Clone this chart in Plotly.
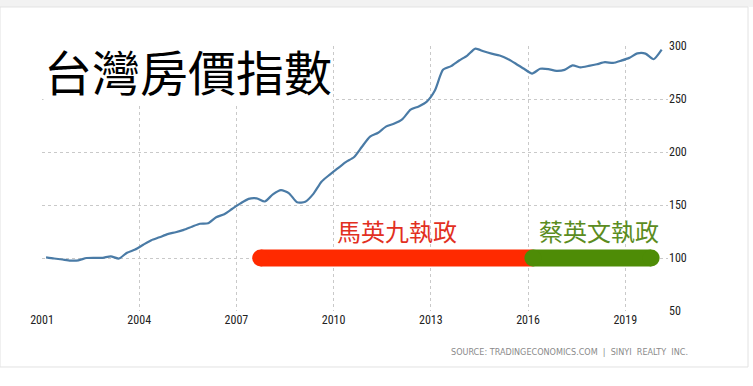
import plotly.graph_objects as go

# Taiwan house price index (quarterly, 2001Q1 .. 2020Q1)
start_year = 2001.125
index_values = [
    100.6, 99.5, 98.6, 97.6, 97.8, 100.0, 100.2, 100.2,
    101.5, 99.5, 105.0, 108.0, 112.5, 116.8, 119.5, 122.5,
    124.3, 126.5, 129.5, 132.3, 132.7, 138.5, 141.3, 146.5,
    151.5, 155.8, 156.3, 153.3, 160.0, 164.0, 161.0, 152.5,
    153.0, 160.5, 172.0, 178.5, 184.5, 190.5, 195.0, 205.0,
    214.5, 218.2, 224.2, 226.8, 231.0, 240.0, 243.0, 247.5,
    258.0, 277.5, 281.0, 286.3, 291.0, 297.5, 295.0, 292.8,
    291.0, 287.8, 283.3, 278.5, 274.0, 278.5, 278.2, 276.6,
    277.5, 281.8, 279.8, 281.2, 282.8, 284.7, 284.0, 286.2,
    288.8, 293.0, 292.8, 287.5, 296.5,
]
quarters = [start_year + 0.25 * i for i in range(len(index_values))]

x_tick_vals = [2001, 2004, 2007, 2010, 2013, 2016, 2019]
x_tick_text = ["2001", "2004", "2007", "2010", "2013", "2016", "2019"]
y_tick_vals = [50, 100, 150, 200, 250, 300]

# presidency bars (years) at index level 100
bar_level = 100
ma_span = [2007.75, 2016.15]
tsai_span = [2016.15, 2019.8]

title_text = "台灣房價指數"
ma_label = "馬英九執政"
tsai_label = "蔡英文執政"
source_text = "SOURCE: TRADINGECONOMICS.COM  |  SINYI  REALTY  INC."

RED = "#ff2a00"
GREEN = "#4e8c06"
LINE = "#4a7ba6"
BAR_W = 17

fig = go.Figure()

fig.add_trace(go.Scatter(
    x=quarters, y=index_values, mode="lines",
    line=dict(color=LINE, width=2.2, shape="spline", smoothing=0.6),
    hoverinfo="skip", showlegend=False,
))

# red bar (Ma)
fig.add_trace(go.Scatter(
    x=ma_span, y=[bar_level, bar_level], mode="lines",
    line=dict(color=RED, width=BAR_W), hoverinfo="skip", showlegend=False,
))
fig.add_trace(go.Scatter(
    x=[ma_span[0]], y=[bar_level], mode="markers",
    marker=dict(color=RED, size=BAR_W, line=dict(width=0)),
    hoverinfo="skip", showlegend=False,
))
# green bar (Tsai)
fig.add_trace(go.Scatter(
    x=tsai_span, y=[bar_level, bar_level], mode="lines",
    line=dict(color=GREEN, width=BAR_W), hoverinfo="skip", showlegend=False,
))
fig.add_trace(go.Scatter(
    x=tsai_span, y=[bar_level, bar_level], mode="markers",
    marker=dict(color=GREEN, size=BAR_W, line=dict(width=0)),
    hoverinfo="skip", showlegend=False,
))

tick_font = dict(family="Liberation Sans Narrow, Arial Narrow, Roboto Condensed, Liberation Sans, sans-serif",
                 size=12, color="#222222")
cjk = "Noto Sans CJK TC, Noto Sans CJK SC, sans-serif"

fig.update_layout(
    width=753, height=386,
    margin=dict(l=42, r=85, t=46, b=75, pad=0),
    paper_bgcolor="white", plot_bgcolor="white",
    showlegend=False,
    xaxis=dict(
        range=[2001.0, 2020.32], tickvals=x_tick_vals, ticktext=x_tick_text,
        showgrid=True, gridcolor="#c9c9c9", griddash="dot", gridwidth=1,
        zeroline=False, showline=False, ticks="", tickfont=tick_font,
        fixedrange=True,
    ),
    yaxis=dict(
        range=[50, 300], tickvals=y_tick_vals, side="right",
        showgrid=True, gridcolor="#c9c9c9", griddash="dot", gridwidth=1,
        zeroline=False, showline=False, ticks="", tickfont=tick_font,
        fixedrange=True,
    ),
    shapes=[
        # top grey band
        dict(type="rect", xref="paper", yref="paper",
             x0=-0.08, x1=1.14, y0=1.1472, y1=1.18,
             fillcolor="#f2f2f2", line=dict(width=0), layer="below"),
        # white panel with light border
        dict(type="rect", xref="paper", yref="paper",
             x0=-0.0671, x1=1.1278, y0=-0.2113, y1=1.1472,
             fillcolor="white", line=dict(color="#e2e2e2", width=1), layer="below"),
    ],
    annotations=[
        dict(text=title_text, xref="paper", yref="paper", x=0.234, y=0.911,
             xanchor="center", yanchor="middle", showarrow=False,
             font=dict(family=cjk, size=48, color="black"),
             bgcolor="white", borderpad=0),
        dict(text=ma_label, xref="x", yref="y", x=2011.96, y=126.4,
             xanchor="center", yanchor="middle", showarrow=False,
             font=dict(family=cjk, size=24, color="#e2301f")),
        dict(text=tsai_label, xref="x", yref="y", x=2018.2, y=126.4,
             xanchor="center", yanchor="middle", showarrow=False,
             font=dict(family=cjk, size=24, color="#5b8c21")),
        dict(text=source_text, xref="paper", yref="paper", x=1.035, y=-0.155,
             xanchor="right", yanchor="middle", showarrow=False,
             font=dict(family="Liberation Sans Narrow, Arial Narrow, DejaVu Sans Condensed, sans-serif",
                       size=9, color="#8a8a8a")),
    ],
)

fig.write_html("out.html", config={"displayModeBar": False},
               post_script="document.body.style.margin='0';document.body.style.overflow='hidden';")
